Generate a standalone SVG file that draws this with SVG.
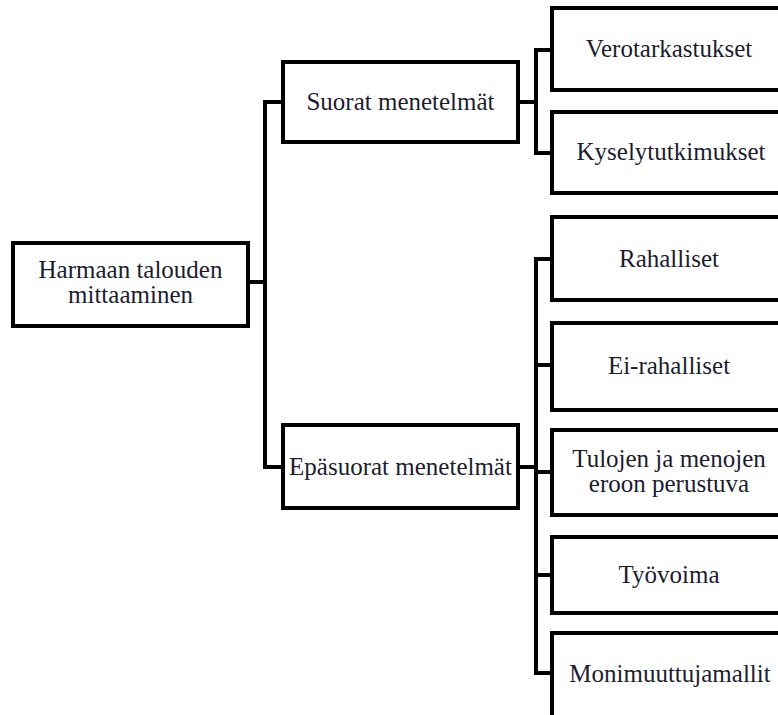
<svg xmlns="http://www.w3.org/2000/svg" width="778" height="715" viewBox="0 0 778 715">
<style>
.box{fill:#fff;stroke:#000;stroke-width:4;stroke-linejoin:miter}
.lbl{font-family:"Liberation Serif","Times New Roman",serif;font-size:25px;fill:#1c1c30;text-anchor:middle}
.con{fill:none;stroke:#000;stroke-width:4;stroke-linejoin:miter}
</style>
<rect width="778" height="715" fill="#fff"/>
<g id="connectors">
<path class="con" d="M248,282 H265 M283,102 H265 V467 H283"/>
<path class="con" d="M518,102 H536 M552,50 H536 V153 H552"/>
<path class="con" d="M518,467 H536 M552,259 H536 V673 H552 M536,365 H552 M536,472 H552 M536,575 H552"/>
</g>
<g id="root">
<rect class="box" x="13" y="243" width="235" height="83"/>
<text class="lbl" x="130.5" y="278">Harmaan talouden</text>
<text class="lbl" x="130.5" y="303">mittaaminen</text>
</g>
<g id="suorat">
<rect class="box" x="283" y="62" width="235" height="80"/>
<text class="lbl" x="400.5" y="110">Suorat menetelmät</text>
</g>
<g id="epasuorat">
<rect class="box" x="283" y="425" width="235" height="83"/>
<text class="lbl" x="400.5" y="475">Epäsuorat menetelmät</text>
</g>
<g id="verotarkastukset">
<rect class="box" x="552" y="8" width="234" height="82"/>
<text class="lbl" x="669" y="57">Verotarkastukset</text>
</g>
<g id="kyselytutkimukset">
<rect class="box" x="552" y="112" width="234" height="81"/>
<text class="lbl" x="671" y="160">Kyselytutkimukset</text>
</g>
<g id="rahalliset">
<rect class="box" x="552" y="217" width="234" height="83"/>
<text class="lbl" x="669" y="267">Rahalliset</text>
</g>
<g id="ei-rahalliset">
<rect class="box" x="552" y="323" width="234" height="87"/>
<text class="lbl" x="669" y="374">Ei-rahalliset</text>
</g>
<g id="tulojen">
<rect class="box" x="552" y="430" width="234" height="85"/>
<text class="lbl" x="669" y="467">Tulojen ja menojen</text>
<text class="lbl" x="669" y="492">eroon perustuva</text>
</g>
<g id="tyovoima">
<rect class="box" x="552" y="537" width="234" height="76"/>
<text class="lbl" x="669" y="583">Työvoima</text>
</g>
<g id="monimuuttujamallit">
<rect class="box" x="552" y="633" width="234" height="90"/>
<text class="lbl" x="670" y="682">Monimuuttujamallit</text>
</g>
</svg>
